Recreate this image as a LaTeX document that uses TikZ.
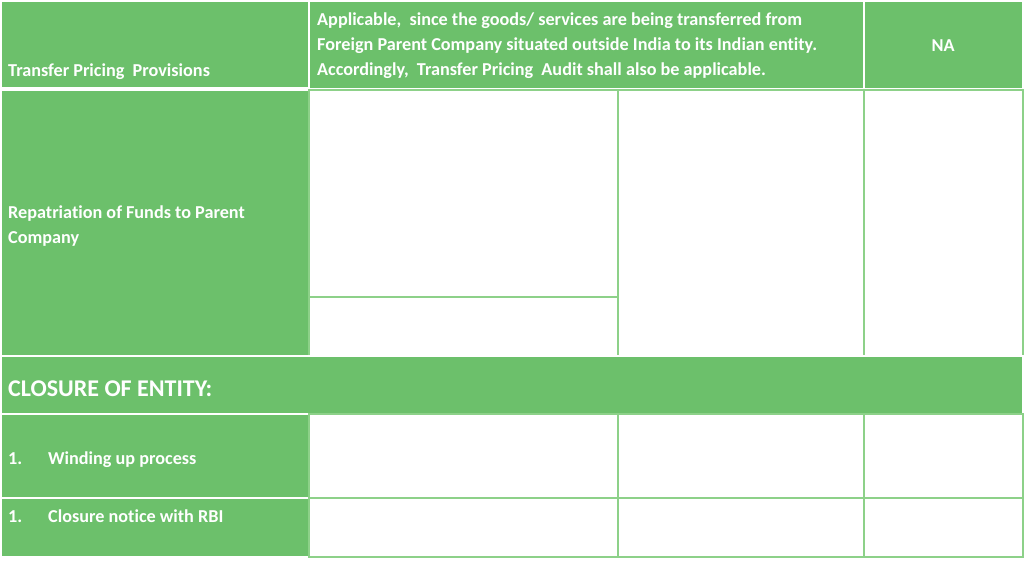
\documentclass[tikz,border=0pt]{standalone}
\usepackage{fontspec}
\setmainfont[Ligatures={NoCommon}]{Carlito}
\definecolor{tgreen}{HTML}{6CC06B}
\definecolor{tline}{HTML}{8DD189}
\newcommand\tcell[6]{\node[#6, minimum width=#4pt, minimum height=#5pt, anchor=north west] (#1) at (#2,#3) {};}
\begin{document}
\begin{tikzpicture}[x=1pt,y=-1pt,
  gcell/.style={rectangle, inner sep=0pt, outer sep=0pt, fill=tgreen, draw=white, line width=1.5pt},
  wcell/.style={rectangle, inner sep=0pt, outer sep=0pt, fill=white, draw=tline, line width=2pt},
  txt/.style={text=white, inner sep=0pt, align=left, font=\bfseries\fontsize{18.2}{25}\selectfont},
  bigtxt/.style={text=white, inner sep=0pt, font=\bfseries\fontsize{24}{28}\selectfont}]
\useasboundingbox[fill=white] (0,0) rectangle (1024,580);
% row 1
\tcell{tp}{1}{1}{308}{87}{gcell}
\tcell{app}{309}{1}{555}{88}{gcell}
\tcell{na}{864}{1}{159}{88}{gcell}
% row 2
\tcell{rep}{1}{90}{308}{266}{gcell}
\tcell{ra}{309}{90}{309}{207}{wcell}
\tcell{rb}{309}{297}{309}{59}{wcell}
\tcell{rc}{618}{90}{246}{266}{wcell}
\tcell{rd}{864}{90}{159}{266}{wcell}
% closure header
\tcell{clo}{1}{356}{1022}{58}{gcell}
% row 4
\tcell{wa}{1}{414}{308}{84}{gcell}
\tcell{wb}{309}{414}{309}{84}{wcell}
\tcell{wc}{618}{414}{246}{84}{wcell}
\tcell{wd}{864}{414}{159}{84}{wcell}
% row 5
\tcell{ca}{1}{498}{308}{59}{gcell}
\tcell{cb}{309}{498}{309}{59}{wcell}
\tcell{cc}{618}{498}{246}{59}{wcell}
\tcell{cd}{864}{498}{159}{59}{wcell}
% texts
\node[txt, anchor=base west] (tpT) at (8,77) {Transfer Pricing\ \ Provisions};
\node[txt, anchor=base west] (appT) at (317,76) {Applicable,\ \ since the goods/ services are being transferred from\\Foreign Parent Company situated outside India to its Indian entity.\\Accordingly,\ \ Transfer Pricing\ \ Audit shall also be applicable.};
\node[txt, anchor=base] (naT) at (943,52) {NA};
\node[txt, anchor=base west] (repT) at (8,243) {Repatriation of Funds to Parent\\Company};
\node[bigtxt, anchor=base west] (cloT) at (8,396) {CLOSURE OF ENTITY:};
\node[txt, anchor=base west] (waN) at (8,464) {1.};
\node[txt, anchor=base west] (waT) at (48,464) {Winding up process};
\node[txt, anchor=base west] (caN) at (8,522) {1.};
\node[txt, anchor=base west] (caT) at (48,522) {Closure notice with RBI};
\end{tikzpicture}
\end{document}
